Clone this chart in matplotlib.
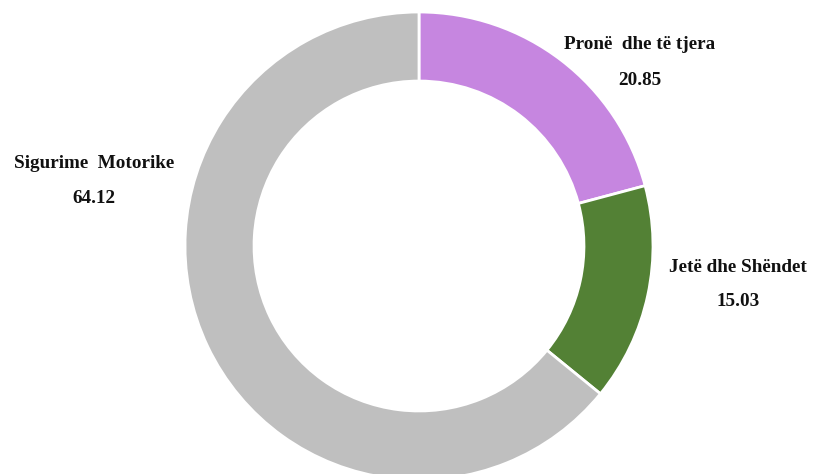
import matplotlib
matplotlib.use("Agg")
import matplotlib.pyplot as plt

categories = ["Pronë dhe të tjera", "Jetë dhe Shëndet", "Sigurime Motorike"]
values = [20.85, 15.03, 64.12]
colors = ["#C686E0", "#538135", "#BFBFBF"]

W, H = 817, 474
fig = plt.figure(figsize=(W / 100, H / 100), dpi=100)
ax = fig.add_axes([0, 0, 1, 1])
ax.set_xlim(0, W)
ax.set_ylim(0, H)
ax.set_aspect("equal")
ax.axis("off")

cx, cy, R = 419, H - 246, 234
ax.pie(values, colors=colors, startangle=90, counterclock=False,
       center=(cx, cy), radius=R, frame=True,
       wedgeprops=dict(width=R * 0.295, edgecolor="white", linewidth=2))
ax.set_xlim(0, W)
ax.set_ylim(0, H)
ax.axis("off")

label_pos = [(640, 44, 80), (738, 268, 302), (94, 163, 198)]
font = dict(family="Liberation Serif", fontweight="bold", fontsize=13.8, color="#111111")
for cat, val, (x, y1, y2) in zip(categories, values, label_pos):
    ax.text(x, H - y1, cat.replace(" ", "  ", 1) if cat != "Jetë dhe Shëndet" else cat,
            ha="center", va="center", **font)
    ax.text(x, H - y2, f"{val:.2f}", ha="center", va="center", **font)

fig.savefig("out.png", dpi=100)
